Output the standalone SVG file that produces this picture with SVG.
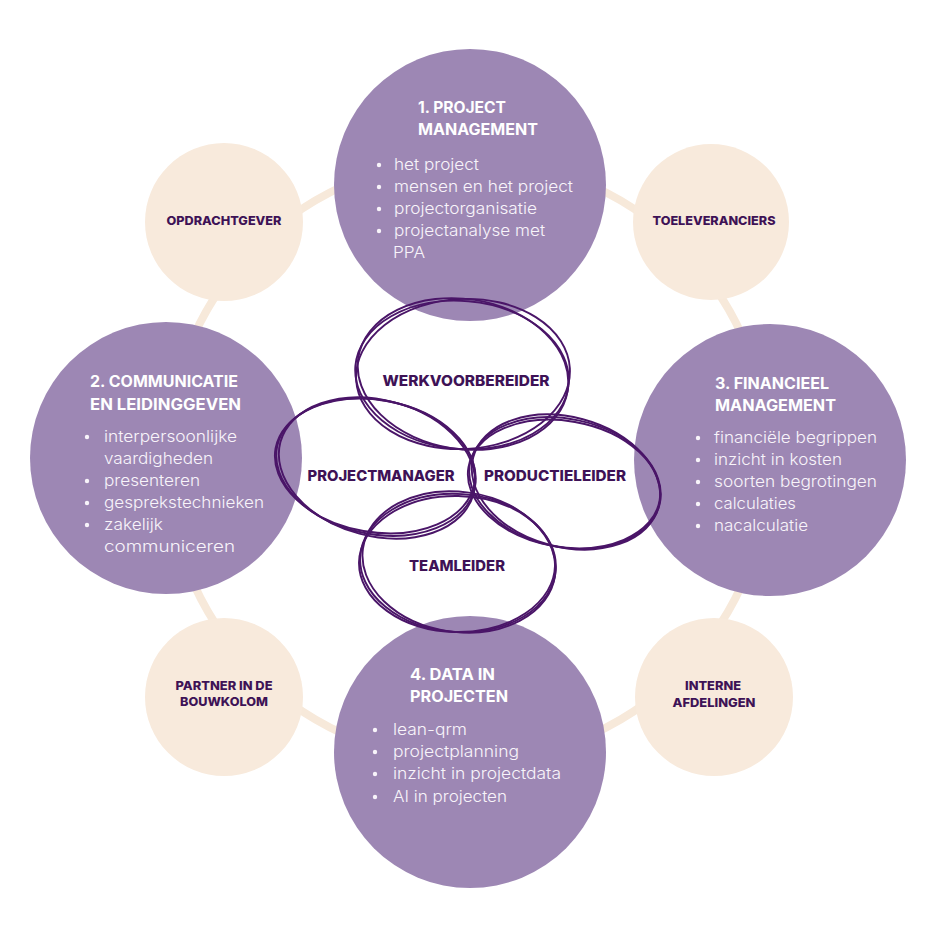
<svg xmlns="http://www.w3.org/2000/svg" width="937" height="937" viewBox="0 0 937 937">
<style>
.big{fill:#9d87b4}
.small{fill:#f8eadc}
.ring{fill:none;stroke:#f7e9da;stroke-width:8}
.title{font-family:Inter,"Liberation Sans",sans-serif;font-weight:700;font-size:15.5px;fill:#ffffff}
.item{font-family:Inter,"Liberation Sans",sans-serif;font-weight:300;font-size:15.5px;fill:#f8f4fa}
.dot{fill:#f8f4fa}
.lbl{font-family:Inter,"Liberation Sans",sans-serif;font-weight:800;font-size:12px;fill:#3e1256;text-anchor:middle}
.role{font-family:Inter,"Liberation Sans",sans-serif;font-weight:800;font-size:14.5px;fill:#3e1256;text-anchor:middle}
.sk{fill:none;stroke:#4a1568;stroke-width:1.9}
</style>
<rect width="937" height="937" fill="#ffffff"/>
<g id="connectors">
<circle class="ring" cx="468" cy="460" r="301"/>
</g>
<g id="opdrachtgever">
<circle class="small" cx="224" cy="222" r="79"/>
<text class="lbl" x="224" y="225" textLength="115" lengthAdjust="spacingAndGlyphs">OPDRACHTGEVER</text>
</g>
<g id="toeleveranciers">
<circle class="small" cx="711" cy="222" r="78"/>
<text class="lbl" x="714" y="225" textLength="123" lengthAdjust="spacingAndGlyphs">TOELEVERANCIERS</text>
</g>
<g id="partner">
<circle class="small" cx="224" cy="697" r="79"/>
<text class="lbl" x="224" y="690" textLength="97" lengthAdjust="spacingAndGlyphs">PARTNER IN DE</text>
<text class="lbl" x="224" y="706" textLength="88" lengthAdjust="spacingAndGlyphs">BOUWKOLOM</text>
</g>
<g id="interne-afdelingen">
<circle class="small" cx="714" cy="697" r="79"/>
<text class="lbl" x="713" y="690" textLength="56" lengthAdjust="spacingAndGlyphs">INTERNE</text>
<text class="lbl" x="714" y="707" textLength="83" lengthAdjust="spacingAndGlyphs">AFDELINGEN</text>
</g>
<g id="projectmanagement">
<circle class="big" cx="470" cy="185" r="136"/>
<text class="title" x="418" y="113" textLength="88" lengthAdjust="spacingAndGlyphs">1. PROJECT</text>
<text class="title" x="418" y="135" textLength="120" lengthAdjust="spacingAndGlyphs">MANAGEMENT</text>
<circle class="dot" cx="379" cy="165" r="2.2"/>
<circle class="dot" cx="379" cy="187" r="2.2"/>
<circle class="dot" cx="379" cy="209" r="2.2"/>
<circle class="dot" cx="379" cy="231" r="2.2"/>
<text class="item" x="394" y="170" textLength="85" lengthAdjust="spacingAndGlyphs">het project</text>
<text class="item" x="394" y="192" textLength="179" lengthAdjust="spacingAndGlyphs">mensen en het project</text>
<text class="item" x="394" y="214" textLength="143" lengthAdjust="spacingAndGlyphs">projectorganisatie</text>
<text class="item" x="394" y="236" textLength="151" lengthAdjust="spacingAndGlyphs">projectanalyse met</text>
<text class="item" x="393" y="258" textLength="32" lengthAdjust="spacingAndGlyphs">PPA</text>
</g>
<g id="communicatie">
<circle class="big" cx="166" cy="458" r="136"/>
<text class="title" x="90" y="387" textLength="148" lengthAdjust="spacingAndGlyphs">2. COMMUNICATIE</text>
<text class="title" x="90" y="410" textLength="151" lengthAdjust="spacingAndGlyphs">EN LEIDINGGEVEN</text>
<circle class="dot" cx="87" cy="437" r="2.2"/>
<circle class="dot" cx="87" cy="481" r="2.2"/>
<circle class="dot" cx="87" cy="503" r="2.2"/>
<circle class="dot" cx="87" cy="525" r="2.2"/>
<text class="item" x="104" y="442" textLength="133" lengthAdjust="spacingAndGlyphs">interpersoonlijke</text>
<text class="item" x="104" y="464" textLength="109" lengthAdjust="spacingAndGlyphs">vaardigheden</text>
<text class="item" x="104" y="486" textLength="96" lengthAdjust="spacingAndGlyphs">presenteren</text>
<text class="item" x="104" y="508" textLength="160" lengthAdjust="spacingAndGlyphs">gesprekstechnieken</text>
<text class="item" x="104" y="530" textLength="59" lengthAdjust="spacingAndGlyphs">zakelijk</text>
<text class="item" x="104" y="552" textLength="131" lengthAdjust="spacingAndGlyphs">communiceren</text>
</g>
<g id="financieel">
<circle class="big" cx="770" cy="460" r="136"/>
<text class="title" x="715" y="389" textLength="114" lengthAdjust="spacingAndGlyphs">3. FINANCIEEL</text>
<text class="title" x="715" y="411" textLength="121" lengthAdjust="spacingAndGlyphs">MANAGEMENT</text>
<circle class="dot" cx="698" cy="438" r="2.2"/>
<circle class="dot" cx="698" cy="460" r="2.2"/>
<circle class="dot" cx="698" cy="482" r="2.2"/>
<circle class="dot" cx="698" cy="504" r="2.2"/>
<circle class="dot" cx="698" cy="526" r="2.2"/>
<text class="item" x="714" y="443" textLength="163" lengthAdjust="spacingAndGlyphs">financiële begrippen</text>
<text class="item" x="714" y="465" textLength="128" lengthAdjust="spacingAndGlyphs">inzicht in kosten</text>
<text class="item" x="714" y="487" textLength="163" lengthAdjust="spacingAndGlyphs">soorten begrotingen</text>
<text class="item" x="714" y="509" textLength="82" lengthAdjust="spacingAndGlyphs">calculaties</text>
<text class="item" x="714" y="531" textLength="94" lengthAdjust="spacingAndGlyphs">nacalculatie</text>
</g>
<g id="data">
<circle class="big" cx="470" cy="752" r="136"/>
<text class="title" x="410" y="680" textLength="85" lengthAdjust="spacingAndGlyphs">4. DATA IN</text>
<text class="title" x="410" y="702" textLength="98" lengthAdjust="spacingAndGlyphs">PROJECTEN</text>
<circle class="dot" cx="375" cy="730" r="2.2"/>
<circle class="dot" cx="375" cy="752" r="2.2"/>
<circle class="dot" cx="375" cy="774" r="2.2"/>
<circle class="dot" cx="375" cy="797" r="2.2"/>
<text class="item" x="393" y="735" textLength="74" lengthAdjust="spacingAndGlyphs">lean-qrm</text>
<text class="item" x="393" y="757" textLength="126" lengthAdjust="spacingAndGlyphs">projectplanning</text>
<text class="item" x="393" y="779" textLength="168" lengthAdjust="spacingAndGlyphs">inzicht in projectdata</text>
<text class="item" x="393" y="802" textLength="114" lengthAdjust="spacingAndGlyphs">AI in projecten</text>
</g>
<g id="werkvoorbereider">
<ellipse class="sk" cx="463" cy="374" rx="107" ry="75" transform="rotate(-3 463 374)"/>
<ellipse class="sk" cx="462" cy="375" rx="107" ry="74" transform="rotate(5 462 375)"/>
<ellipse class="sk" cx="463" cy="374" rx="106" ry="75" transform="rotate(9 463 374)"/>
<text class="role" x="466" y="386" textLength="167" lengthAdjust="spacingAndGlyphs">WERKVOORBEREIDER</text>
</g>
<g id="projectmanager">
<ellipse class="sk" cx="376" cy="467" rx="101" ry="67" transform="rotate(12 376 467)"/>
<ellipse class="sk" cx="377" cy="468" rx="100" ry="68" transform="rotate(15 377 468)"/>
<ellipse class="sk" cx="375" cy="466" rx="101" ry="66" transform="rotate(10 375 466)"/>
<text class="role" x="381" y="481" textLength="147" lengthAdjust="spacingAndGlyphs">PROJECTMANAGER</text>
</g>
<g id="productieleider">
<ellipse class="sk" cx="565" cy="483" rx="97" ry="64" transform="rotate(12 565 483)"/>
<ellipse class="sk" cx="566" cy="482" rx="96" ry="65" transform="rotate(15 566 482)"/>
<ellipse class="sk" cx="564" cy="484" rx="97" ry="63" transform="rotate(10 564 484)"/>
<text class="role" x="555" y="481" textLength="142" lengthAdjust="spacingAndGlyphs">PRODUCTIELEIDER</text>
</g>
<g id="teamleider">
<ellipse class="sk" cx="458" cy="563" rx="98" ry="69" transform="rotate(4 458 563)"/>
<ellipse class="sk" cx="459" cy="562" rx="97" ry="70" transform="rotate(8 459 562)"/>
<ellipse class="sk" cx="457" cy="564" rx="98" ry="68" transform="rotate(1 457 564)"/>
<text class="role" x="457" y="571" textLength="96" lengthAdjust="spacingAndGlyphs">TEAMLEIDER</text>
</g>
</svg>
